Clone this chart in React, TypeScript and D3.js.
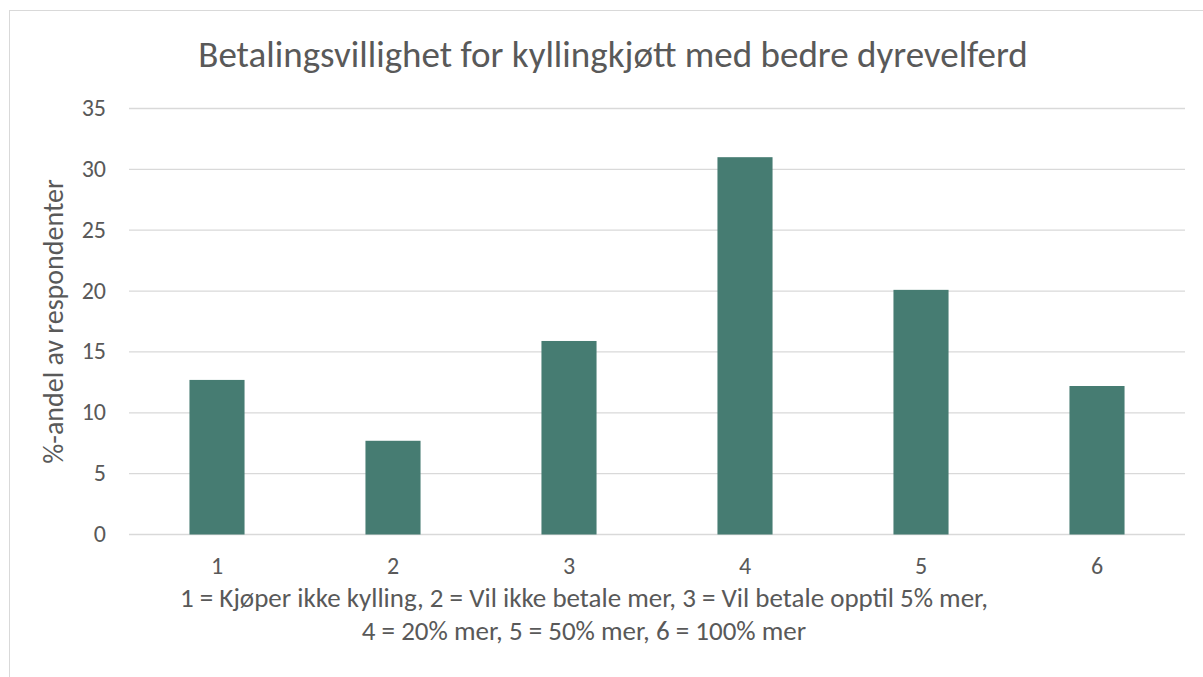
import React from "react";
import * as d3 from "d3";

const categories = ["1", "2", "3", "4", "5", "6"];
const values = [12.7, 7.7, 15.9, 31.0, 20.1, 12.2];
const yTicks = [0, 5, 10, 15, 20, 25, 30, 35];
const title = "Betalingsvillighet for kyllingkjøtt med bedre dyrevelferd";
const yTitle = "%-andel av respondenter";
const xTitleLines = [
  "1 = Kjøper ikke kylling, 2 = Vil ikke betale mer, 3 = Vil betale opptil 5% mer,",
  "4 = 20% mer, 5 = 50% mer, 6 = 100% mer",
];

const W = 1203;
const H = 677;
const FONT = "Carlito, Calibri, Lato, 'Open Sans', sans-serif";
const TEXT = "#595959";

export default function App() {
  const left = 129, right = 1185, top = 108.5, bottom = 534.5;
  const x = d3.scaleBand<string>().domain(categories).range([left, right]).paddingInner(0.687).paddingOuter(0.3435);
  const y = d3.scaleLinear().domain([0, 35]).range([bottom, top]);
  return (
    <svg width={W} height={H} style={{ position: "absolute", left: 0, top: 0, background: "#fff" }} fontFamily={FONT}>
      <rect x={9.5} y={10.5} width={1210} height={700} fill="#fff" stroke="#d9d9d9" strokeWidth={1} />
      <text x={613} y={66.5} textAnchor="middle" style={{ fontSize: "37px" }} fill={TEXT}>{title}</text>
      {yTicks.map((t) => (
        <g key={t}>
          <line x1={left} x2={right} y1={y(t)} y2={y(t)} stroke="#d9d9d9" strokeWidth={1.3} />
          <text x={106} y={y(t) + 7.5} textAnchor="end" style={{ fontSize: "24px" }} fill={TEXT}>{t}</text>
        </g>
      ))}
      {categories.map((c, i) => (
        <g key={c}>
          <rect x={x(c)} y={y(values[i])} width={x.bandwidth()} height={y(0) - y(values[i])} fill="#467c72" />
          <text x={(x(c) as number) + x.bandwidth() / 2} y={574} textAnchor="middle" style={{ fontSize: "24px" }} fill={TEXT}>{c}</text>
        </g>
      ))}
      <text transform={`translate(63,321.5) rotate(-90)`} textAnchor="middle" style={{ fontSize: "28px" }} fill={TEXT}>{yTitle}</text>
      {xTitleLines.map((l, i) => (
        <text key={i} x={584} y={607 + i * 33} textAnchor="middle" style={{ fontSize: "27px" }} fill={TEXT}>{l}</text>
      ))}
    </svg>
  );
}
